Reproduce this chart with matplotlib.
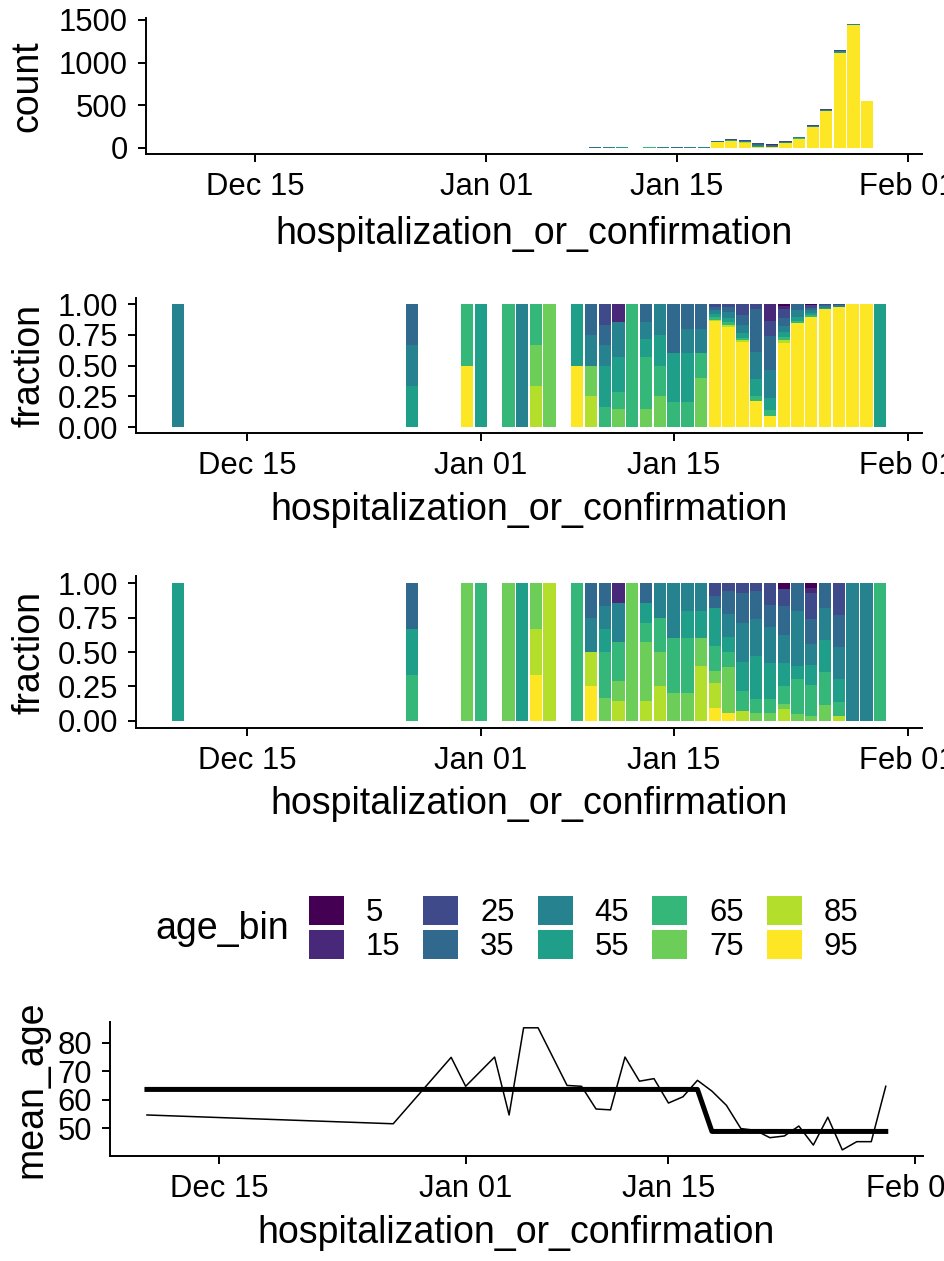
import numpy as np
import matplotlib
matplotlib.use('Agg')
import matplotlib.pyplot as plt
import matplotlib.dates as mdates
from matplotlib.patches import Patch

plt.rcParams['font.family'] = ['Liberation Sans', 'DejaVu Sans']

# dates that have at least one case
days = np.array(['2019-12-10', '2019-12-27', '2019-12-31', '2020-01-01', '2020-01-03',
                 '2020-01-04', '2020-01-05', '2020-01-06', '2020-01-08', '2020-01-09',
                 '2020-01-10', '2020-01-11', '2020-01-12', '2020-01-13', '2020-01-14',
                 '2020-01-15', '2020-01-16', '2020-01-17', '2020-01-18', '2020-01-19',
                 '2020-01-20', '2020-01-21', '2020-01-22', '2020-01-23', '2020-01-24',
                 '2020-01-25', '2020-01-26', '2020-01-27', '2020-01-28', '2020-01-29',
                 '2020-01-30'], dtype='datetime64[D]')

age_bins = ['5', '15', '25', '35', '45', '55', '65', '75', '85', '95']
colors = ['#440154', '#482878', '#3E4A89', '#31688E', '#26828E',
          '#1F9E89', '#35B779', '#6DCD59', '#B4DE2C', '#FDE725']

# counts per day for each age bin (all cases) -> panels 1 and 2
all_5 = [0, 0, 0, 0, 0, 0, 0, 0, 0, 0, 0, 0, 0, 0, 0, 0, 0, 0, 0, 0, 0, 0, 0, 1, 0, 1, 0, 2, 0, 0, 0]
all_15 = [0, 0, 0, 0, 0, 0, 0, 0, 0, 0, 0, 1, 0, 0, 0, 0, 0, 0, 0, 0, 0, 0, 6, 2, 0, 2, 0, 0, 0, 0, 0]
all_25 = [0, 0, 0, 0, 0, 0, 0, 0, 0, 0, 1, 0, 0, 0, 0, 0, 0, 0, 2, 2, 8, 2, 5, 6, 0, 5, 3, 5, 0, 0, 0]
all_35 = [0, 1, 0, 0, 0, 0, 0, 0, 0, 1, 1, 0, 0, 1, 0, 2, 1, 1, 2, 4, 7, 18, 12, 5, 6, 5, 5, 6, 0, 0, 0]
all_45 = [1, 1, 0, 0, 0, 1, 0, 0, 0, 1, 1, 2, 0, 1, 1, 0, 1, 1, 2, 5, 6, 11, 10, 4, 8, 7, 6, 10, 3, 0, 0]
all_55 = [0, 1, 0, 1, 0, 0, 0, 0, 1, 0, 2, 2, 0, 1, 1, 2, 2, 0, 2, 3, 4, 7, 4, 3, 4, 4, 4, 8, 0, 0, 1]
all_65 = [0, 0, 1, 0, 1, 0, 1, 0, 0, 0, 1, 1, 1, 3, 1, 1, 1, 1, 2, 3, 1, 2, 2, 2, 2, 3, 0, 0, 0, 0, 0]
all_75 = [0, 0, 0, 0, 0, 0, 1, 1, 0, 1, 0, 1, 0, 1, 1, 0, 0, 2, 0, 0, 0, 0, 0, 0, 0, 0, 0, 0, 0, 0, 0]
all_85 = [0, 0, 0, 0, 0, 0, 1, 0, 0, 1, 0, 0, 0, 0, 0, 0, 0, 0, 1, 1, 2, 0, 0, 2, 0, 0, 0, 0, 0, 0, 0]
all_95 = [0, 0, 1, 0, 0, 0, 0, 0, 1, 0, 0, 0, 0, 0, 0, 0, 0, 0, 67, 80, 62, 11, 4, 53, 109, 239, 432,
          1116, 1445, 552, 0]

# counts per day for each age bin (second subset) -> panel 3
known_5 = [0, 0, 0, 0, 0, 0, 0, 0, 0, 0, 0, 0, 0, 0, 0, 0, 0, 0, 0, 0, 0, 0, 0, 1, 0, 1, 0, 0, 0, 0, 0]
known_15 = [0, 0, 0, 0, 0, 0, 0, 0, 0, 0, 0, 1, 0, 0, 0, 0, 0, 0, 0, 0, 0, 0, 0, 0, 0, 1, 0, 0, 0, 0, 0]
known_25 = [0, 0, 0, 0, 0, 0, 0, 0, 0, 0, 0, 0, 0, 0, 0, 0, 0, 0, 1, 1, 1, 1, 3, 3, 0, 5, 0, 7, 0, 0, 0]
known_35 = [0, 1, 0, 0, 0, 0, 0, 0, 0, 1, 1, 0, 0, 1, 0, 0, 0, 0, 1, 3, 3, 4, 3, 5, 4, 5, 3, 7, 0, 0, 0]
known_45 = [0, 0, 0, 0, 0, 0, 0, 0, 0, 1, 1, 2, 0, 0, 1, 2, 1, 1, 0, 3, 4, 5, 5, 5, 8, 4, 4, 7, 1, 1, 0]
known_55 = [1, 1, 0, 0, 0, 1, 0, 0, 0, 0, 1, 0, 0, 1, 0, 0, 1, 1, 3, 2, 3, 6, 5, 4, 2, 4, 4, 5, 0, 0, 0]
known_65 = [0, 1, 0, 1, 0, 0, 0, 0, 1, 0, 2, 2, 0, 1, 1, 2, 2, 0, 2, 2, 2, 2, 2, 3, 5, 6, 4, 3, 0, 0, 1]
known_75 = [0, 0, 1, 0, 1, 0, 1, 0, 0, 0, 1, 1, 1, 3, 1, 1, 1, 1, 1, 6, 0, 1, 1, 1, 1, 1, 2, 0, 0, 0, 0]
known_85 = [0, 0, 0, 0, 0, 0, 1, 1, 0, 1, 0, 1, 0, 1, 1, 0, 0, 2, 2, 0, 1, 0, 0, 2, 0, 0, 0, 1, 0, 0, 0]
known_95 = [0, 0, 0, 0, 0, 0, 1, 0, 0, 1, 0, 0, 0, 0, 0, 0, 0, 0, 1, 1, 0, 0, 0, 0, 0, 0, 0, 0, 0, 0, 0]

# daily mean age and the two-level fit
mean_age = [54.6, 51.5, 74.9, 64.7, 75.0, 54.6, 85.3, 85.3, 65.0, 64.7, 56.7, 56.4, 75.0,
            66.5, 67.4, 58.8, 61.0, 66.8, 63.0, 58.0, 49.8, 49.2, 46.6, 47.2, 50.7, 44.0,
            53.8, 42.3, 45.2, 45.2, 64.7]
fit_age = [63.6, 63.6, 63.6, 63.6, 63.6, 63.6, 63.6, 63.6, 63.6, 63.6, 63.6, 63.6, 63.6,
           63.6, 63.6, 63.6, 63.6, 63.6, 48.8, 48.8, 48.8, 48.8, 48.8, 48.8, 48.8, 48.8,
           48.8, 48.8, 48.8, 48.8, 48.8]

all_counts = np.array([all_5, all_15, all_25, all_35, all_45,
                       all_55, all_65, all_75, all_85, all_95], dtype=float)
known_counts = np.array([known_5, known_15, known_25, known_35, known_45,
                         known_55, known_65, known_75, known_85, known_95], dtype=float)

W, H = 944, 1261
TICK = 22.3
TITLE = 27
xticks = np.array(['2019-12-15', '2020-01-01', '2020-01-15', '2020-02-01'], dtype='datetime64[D]')


def add_axes(fig, left, right, top, bottom):
    return fig.add_axes([left / W, 1 - bottom / H, (right - left) / W, (bottom - top) / H])


def style(ax):
    ax.spines['top'].set_visible(False)
    ax.spines['right'].set_visible(False)
    for s in ['left', 'bottom']:
        ax.spines[s].set_linewidth(1.4)
    ax.tick_params(length=5.5, width=1.4, pad=7.5, labelsize=TICK, colors='black')
    ax.set_xticks(xticks)
    ax.xaxis.set_major_formatter(mdates.DateFormatter('%b %d'))
    ax.set_xlabel('hospitalization_or_confirmation', fontsize=TITLE, va='center')


def stacked(ax, counts, fill):
    values = counts / counts.sum(axis=0) if fill else counts
    bottom = np.zeros(len(days))
    # first level on top, last level at the bottom (ggplot stacking)
    for i in range(len(age_bins) - 1, -1, -1):
        ax.bar(days, values[i], bottom=bottom, width=0.9, color=colors[i], linewidth=0)
        bottom += values[i]
    ax.use_sticky_edges = False
    ax.margins(x=0.05, y=0.05)


fig = plt.figure(figsize=(W / 100, H / 100), dpi=100)

# panel 1: counts
ax1 = add_axes(fig, 146, 922, 18.2, 154)
stacked(ax1, all_counts, False)
style(ax1)
ax1.set_yticks([0, 500, 1000, 1500])
ax1.set_ylabel('count', fontsize=TITLE, va='center', ha='center')
ax1.yaxis.set_label_coords(-0.153, 0.5)
ax1.xaxis.set_label_coords(0.5, -0.589)

# panel 2: fraction, all cases
ax2 = add_axes(fig, 136, 922, 297.9, 433.2)
stacked(ax2, all_counts, True)
style(ax2)
ax2.set_yticks([0, 0.25, 0.5, 0.75, 1.0])
ax2.yaxis.set_major_formatter(plt.FormatStrFormatter('%.2f'))
ax2.set_ylabel('fraction', fontsize=TITLE, va='center', ha='center')
ax2.yaxis.set_label_coords(-0.135, 0.5)
ax2.xaxis.set_label_coords(0.5, -0.568)

# panel 3: fraction, subset
ax3 = add_axes(fig, 136, 922, 576.4, 727.6)
stacked(ax3, known_counts, True)
style(ax3)
ax3.set_yticks([0, 0.25, 0.5, 0.75, 1.0])
ax3.yaxis.set_major_formatter(plt.FormatStrFormatter('%.2f'))
ax3.set_ylabel('fraction', fontsize=TITLE, va='center', ha='center')
ax3.yaxis.set_label_coords(-0.135, 0.5)
ax3.xaxis.set_label_coords(0.5, -0.508)

# legend
handles = [Patch(facecolor=c, edgecolor='none') for c in colors]
fig.legend(handles, age_bins, loc='center left', bbox_to_anchor=(309 / W, 1 - 929 / H),
           ncol=5, frameon=False, borderaxespad=0, borderpad=0, fontsize=TICK,
           handlelength=1.13, handleheight=1.06, handletextpad=0.7,
           columnspacing=0.75, labelspacing=0.05)
fig.text(222 / W, 1 - 929 / H, 'age_bin', fontsize=TITLE, ha='center', va='center')

# panel 4: mean age
ax4 = add_axes(fig, 110, 922.7, 1021.7, 1156)
ax4.plot(days, mean_age, color='black', lw=1.1)
ax4.plot(days, fit_age, color='black', lw=3.6)
style(ax4)
ax4.set_yticks([50, 60, 70, 80])
ax4.set_ylabel('mean_age', fontsize=TITLE, va='center', ha='center')
ax4.yaxis.set_label_coords(-0.097, 0.5)
ax4.xaxis.set_label_coords(0.5, -0.572)

fig.savefig('out.png', dpi=100)
